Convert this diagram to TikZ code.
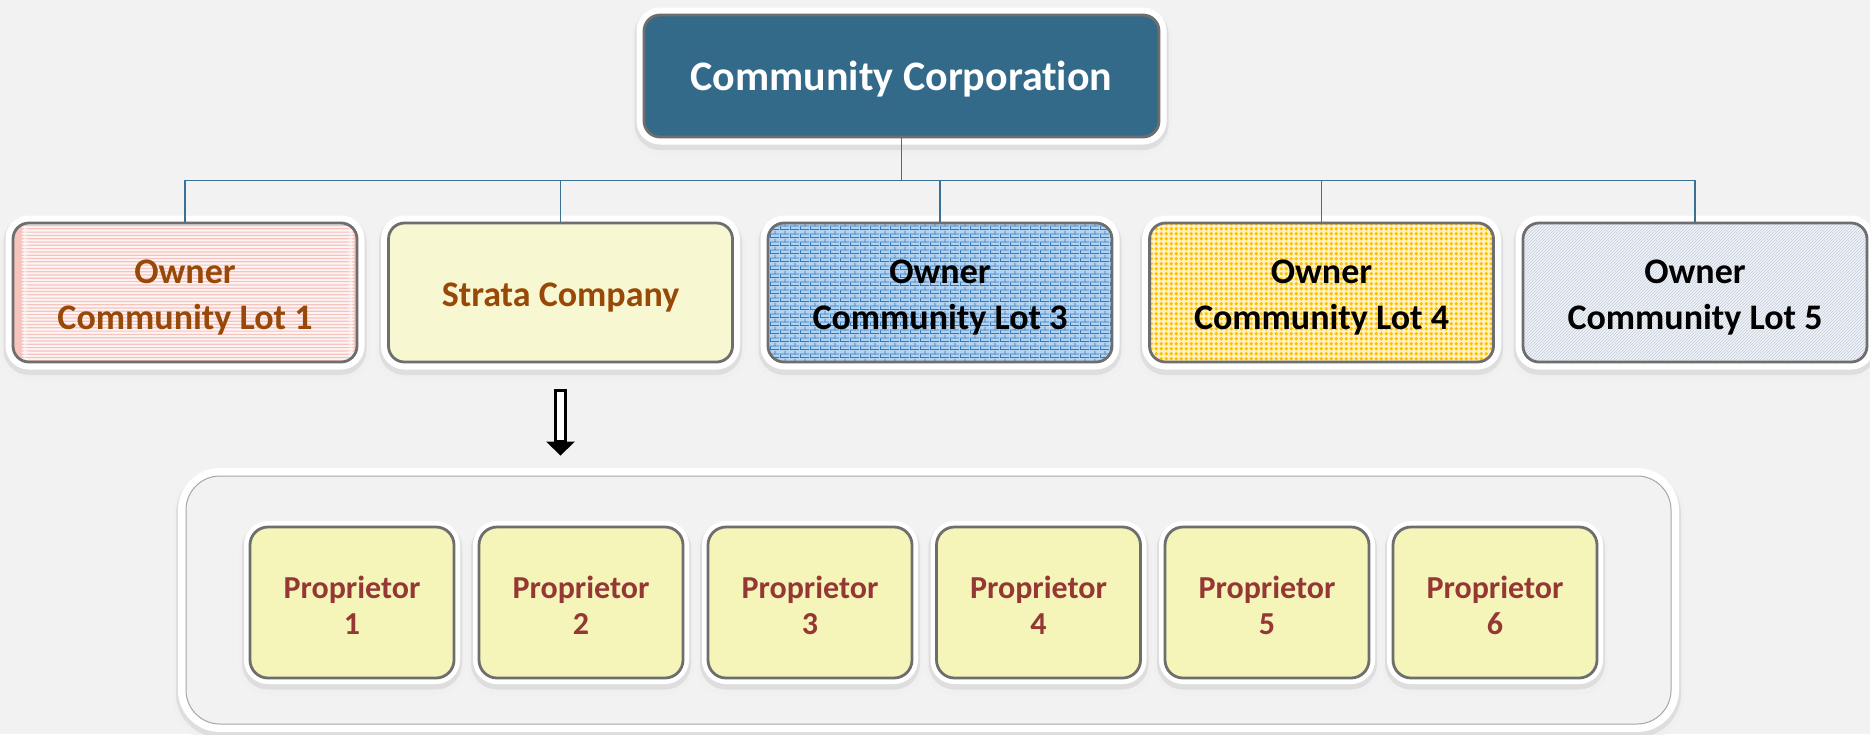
\documentclass[tikz,border=0pt]{standalone}
\usepackage{fontspec}
\setmainfont{Carlito}[Ligatures=NoCommon]
\usetikzlibrary{patterns,patterns.meta,calc}
\definecolor{bg}{HTML}{F2F2F2}
\definecolor{topblue}{HTML}{336A8A}
\definecolor{edge}{HTML}{6E6E6E}
\definecolor{conn}{HTML}{3A7095}
\definecolor{brownT}{HTML}{984807}
\definecolor{redT}{HTML}{953735}
\definecolor{pinkbase}{HTML}{FDF5F5}
\definecolor{pinkline}{HTML}{F6C3BD}
\definecolor{yellowbase}{HTML}{F7F7D1}
\definecolor{brickbase}{HTML}{B3D3F0}
\definecolor{brickline}{HTML}{2E78C0}
\definecolor{dotcol}{HTML}{FFC000}
\definecolor{dotbase}{HTML}{FFF1C0}
\definecolor{weavebase}{HTML}{F0F3F8}
\definecolor{weaveline}{HTML}{C5CEDB}
\definecolor{propfill}{HTML}{F5F5B9}
\definecolor{groupline}{HTML}{A6A6A6}

\tikzdeclarepattern{
  name=bigdots, type=uncolored,
  bottom left={(-2.35pt,-2.35pt)}, top right={(2.35pt,2.35pt)},
  tile size={(4.7pt,4.7pt)},
  code={\fill (0pt,0pt) circle (2pt);}
}
\tikzdeclarepattern{
  name=mybricks, type=uncolored,
  bottom left={(0pt,0pt)}, top right={(10pt,8pt)},
  tile size={(10pt,8pt)},
  code={\fill (0pt,0pt) rectangle (10pt,0.9pt);
        \fill (0pt,4pt) rectangle (10pt,4.9pt);
        \fill (0pt,0pt) rectangle (0.9pt,4pt);
        \fill (5pt,4pt) rectangle (5.9pt,8pt);}
}

\begin{document}
\begin{tikzpicture}[x=1pt,y=1pt,
  frame/.style={
    preaction={draw=black!6, line width=#1+10pt, transform canvas={yshift=-6pt}},
    preaction={draw=black!13, line width=#1+4pt, transform canvas={yshift=-3.5pt}},
    preaction={draw=white, line width=#1}},
  frame/.default=15pt,
  obox/.style={rectangle, rounded corners=16pt, draw=edge, line width=2.8pt,
    inner sep=0pt, minimum width=344pt, minimum height=139pt, frame},
  pbox/.style={rectangle, rounded corners=18pt, draw=edge, line width=2.8pt,
    inner sep=0pt, minimum width=204pt, minimum height=151pt, frame=12pt,
    preaction={fill=propfill}},
  stripes/.style={path picture={
    \foreach \k in {0,...,43}
      \fill[pinkline] ($(path picture bounding box.south west)+(0,\k*3.3+0.6)$) rectangle ++(350,1.2);}},
  rowtext/.style={align=center, inner sep=0pt, yshift=-5.5pt,
    font=\fontsize{36}{46}\selectfont\bfseries},
  proptext/.style={align=center, inner sep=0pt, yshift=-2.5pt, text=redT,
    font=\fontsize{32}{36}\selectfont\bfseries},
  connector/.style={draw=conn, line width=1.8pt},
]
\useasboundingbox[fill=bg] (0,0) rectangle (1870,-734);

% top node
\node[obox, fill=topblue, minimum width=515pt, minimum height=122pt,
  label={[name=topt, inner sep=0pt, yshift=-3.5pt, text=white,
    font=\fontsize{42}{50}\selectfont\bfseries]center:Community Corporation}]
  (top) at (901.5,-76) {};

% second row
\node[obox, fill=pinkbase, stripes,
  label={[name=b1t, rowtext, text=brownT]center:{Owner\\Community Lot 1}}]
  (b1) at (185,-292.5) {};
\node[obox, fill=yellowbase,
  label={[name=b2t, rowtext, text=brownT]center:{Strata Company}}]
  (b2) at (560.5,-292.5) {};
\node[obox, preaction={fill=brickbase}, pattern=mybricks, pattern color=brickline,
  label={[name=b3t, rowtext, text=black]center:{Owner\\Community Lot 3}}]
  (b3) at (940,-292.5) {};
\node[obox, preaction={fill=dotbase}, pattern=bigdots, pattern color=dotcol,
  label={[name=b4t, rowtext, text=black]center:{Owner\\Community Lot 4}}]
  (b4) at (1321.5,-292.5) {};
\node[obox, preaction={fill=weavebase}, pattern=north east lines, pattern color=weaveline,
  label={[name=b5t, rowtext, text=black]center:{Owner\\Community Lot 5}}]
  (b5) at (1695,-292.5) {};

% connectors
\foreach \b in {b1,b2,b3,b4,b5}
  \draw[connector] (top.south) -- ++(0,-42) -| (\b.north);

% group container
\node[rectangle, rounded corners=34pt, draw=groupline, line width=1pt, fill=bg,
  minimum width=1485pt, minimum height=248pt, inner sep=0pt, frame=16pt]
  (group) at (928.5,-600) {};

% proprietors
\foreach \i/\x in {1/352,2/581,3/810,4/1038.5,5/1267,6/1495}
  \node[pbox, label={[name=p\i t, proptext]center:{Proprietor\\\i}}]
    (p\i) at (\x,-602.5) {};

% hollow arrow from strata company to group
\coordinate (arrS) at ([yshift=-27pt]b2.south);
\coordinate (arrE) at ([yshift=20pt]b2.south |- group.north);
\fill[black] (arrE) -- ++(-14.5,14) -- ++(29,0) -- cycle;
\draw[black, line width=2.4pt, fill=white] ([xshift=-5pt]arrS) rectangle ([xshift=5pt,yshift=14pt]arrE);
\end{tikzpicture}
\end{document}
